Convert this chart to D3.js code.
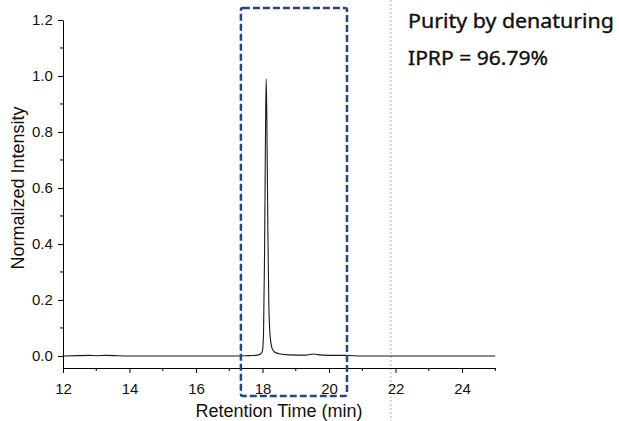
<!DOCTYPE html>
<html>
<head>
<meta charset="utf-8">
<script src="https://cdn.jsdelivr.net/npm/d3@7"></script>
<style>
  body { margin: 0; background: #fff; }
  svg text { font-family: "Liberation Sans", Arial, sans-serif; }
</style>
</head>
<body>
<div id="chart"></div>
<script>
// chromatogram data
const retentionTime = [12.0, 12.8, 13.0, 13.3, 14.0, 15.0, 16.0, 17.0, 17.5, 17.85, 17.95, 18.0, 18.03,
    18.06, 18.09, 18.11, 18.13, 18.16, 18.19, 18.23, 18.28, 18.35, 18.5, 18.8, 19.3, 19.55, 19.65,
    19.8, 20.2, 20.5, 21.0, 22.0, 23.0, 24.0, 25.0];
const intensity = [0.0, 0.002, 0.001, 0.002, 0.0, 0.0, 0.0, 0.0, 0.001, 0.003, 0.008, 0.02, 0.08,
    0.35, 0.8, 0.99, 0.85, 0.45, 0.18, 0.07, 0.03, 0.015, 0.008, 0.004, 0.003, 0.007, 0.005,
    0.003, 0.002, 0.002, 0.0, 0.0, 0.0, 0.0, 0.0];

const xTicks = [12, 14, 16, 18, 20, 22, 24];
const xMinor = [13, 15, 17, 19, 21, 23, 25];
const yTicks = [0.0, 0.2, 0.4, 0.6, 0.8, 1.0, 1.2];
const yMinor = [0.1, 0.3, 0.5, 0.7, 0.9, 1.1];

const boxX = [17.35, 20.54];   // highlighted region (min)
const boxY = [-0.143, 1.243];
const markerX = 21.86;          // dotted reference line

const width = 619, height = 421;
const svg = d3.select("#chart").append("svg")
    .attr("width", width)
    .attr("height", height);

const x = d3.scaleLinear().domain([12, 25]).range([63, 495.3]);
const y = d3.scaleLinear().domain([-0.043, 1.2]).range([368, 20]);

// dotted vertical reference line across the whole figure
svg.append("line")
    .attr("x1", x(markerX)).attr("x2", x(markerX))
    .attr("y1", 0).attr("y2", height)
    .attr("stroke", "#bdbdbd")
    .attr("stroke-width", 1.2)
    .attr("stroke-dasharray", "2,2");

// x axis
const xAxis = svg.append("g")
    .attr("transform", `translate(0,${y.range()[0]})`)
    .call(d3.axisBottom(x).tickValues(xTicks).tickSize(5).tickSizeOuter(0).tickFormat(d3.format("d")));
xAxis.append("g").selectAll("line")
    .data(xMinor).enter().append("line")
    .attr("x1", d => x(d)).attr("x2", d => x(d))
    .attr("y1", 0).attr("y2", 3)
    .attr("stroke", "#000");

// y axis
const yAxis = svg.append("g")
    .attr("transform", `translate(${x.range()[0]},0)`)
    .call(d3.axisLeft(y).tickValues(yTicks).tickSize(5).tickSizeOuter(0).tickFormat(d3.format(".1f")));
yAxis.append("g").selectAll("line")
    .data(yMinor).enter().append("line")
    .attr("x1", 0).attr("x2", -3)
    .attr("y1", d => y(d)).attr("y2", d => y(d))
    .attr("stroke", "#000");

svg.selectAll(".tick text")
    .attr("font-size", 15)
    .attr("fill", "#111")
    .style("font-family", "'Liberation Sans', Arial, sans-serif");
xAxis.selectAll(".tick text").attr("dy", "1.2em");
yAxis.selectAll(".tick text").attr("dx", "-0.15em");
svg.selectAll(".domain").attr("stroke", "#000");

// trace
const line = d3.line()
    .x((d, i) => x(retentionTime[i]))
    .y(d => y(d))
    .curve(d3.curveMonotoneX);

svg.append("path")
    .datum(intensity)
    .attr("d", line)
    .attr("fill", "none")
    .attr("stroke", "#1a1a1a")
    .attr("stroke-width", 1.1);

// highlight box
svg.append("rect")
    .attr("x", x(boxX[0]))
    .attr("y", y(boxY[1]))
    .attr("width", x(boxX[1]) - x(boxX[0]))
    .attr("height", y(boxY[0]) - y(boxY[1]))
    .attr("rx", 2)
    .attr("fill", "none")
    .attr("stroke", "#27457f")
    .attr("stroke-width", 2.5)
    .attr("stroke-dasharray", "7,3");

// axis titles
svg.append("text")
    .attr("x", 279).attr("y", 417)
    .attr("text-anchor", "middle")
    .attr("font-size", 18)
    .attr("fill", "#111")
    .text("Retention Time (min)");

svg.append("text")
    .attr("transform", "translate(24,188) rotate(-90)")
    .attr("text-anchor", "middle")
    .attr("font-size", 18)
    .attr("fill", "#111")
    .text("Normalized Intensity");

// annotation
const note = svg.append("g")
    .attr("font-size", 19)
    .attr("fill", "#111")
    .attr("stroke", "#111")
    .attr("stroke-width", 0.35);
note.append("text").attr("x", 408).attr("y", 28)
    .style("font-family", "'Noto Sans', sans-serif")
    .attr("textLength", 206).attr("lengthAdjust", "spacingAndGlyphs")
    .text("Purity by denaturing");
note.append("text").attr("x", 408).attr("y", 65)
    .style("font-family", "'Noto Sans', sans-serif")
    .attr("textLength", 140).attr("lengthAdjust", "spacingAndGlyphs")
    .text("IPRP = 96.79%");
</script>
</body>
</html>
